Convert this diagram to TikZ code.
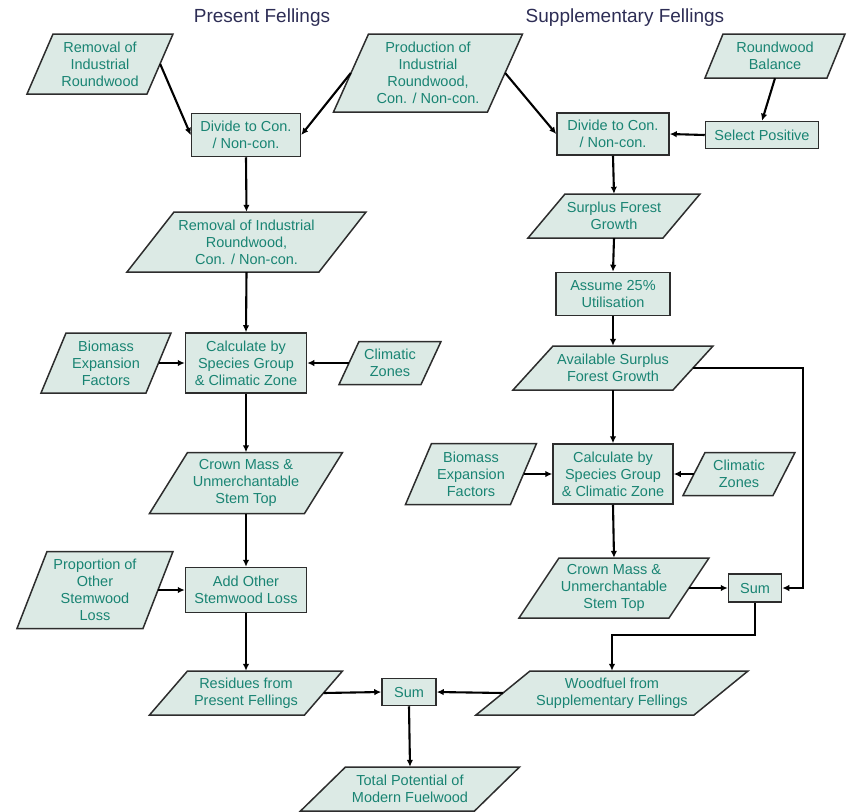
\documentclass[tikz,border=0pt]{standalone}
\usepackage{fontspec}
\setmainfont{Liberation Sans}
\usetikzlibrary{arrows.meta,calc}
\definecolor{fillc}{RGB}{220,234,229}
\definecolor{txtc}{RGB}{25,132,115}
\definecolor{titc}{RGB}{45,45,85}
\definecolor{edgec}{RGB}{45,45,45}
\tikzset{
 shapeline/.style={draw=edgec, line width=1.5pt, fill=fillc, line join=miter},
 ptext/.style={inner sep=0pt, align=center, text=txtc, font=\fontsize{14.5}{17}\selectfont},
 procbox/.style={shapeline, ptext, rectangle},
 flow/.style={line width=2.1pt, -{Latex[length=7pt,width=6.5pt]}},
 ttl/.style={text=titc, font=\fontsize{19}{22}\selectfont, anchor=base, inner sep=0pt}
}
\newcommand{\pgramnode}[7]{%
 \draw[shapeline] (#2-#4/2+#6/2,#3-#5/2) -- (#2+#4/2+#6/2,#3-#5/2) -- (#2+#4/2-#6/2,#3+#5/2) -- (#2-#4/2-#6/2,#3+#5/2) -- cycle;
 \node[ptext, minimum width=#4pt, minimum height=#5pt] (#1) at (#2,#3) {#7};}
\begin{document}
\begin{tikzpicture}[x=1pt,y=-1pt]
\useasboundingbox (0,0) rectangle (847,812);
% titles
\node[ttl] (t1) at (262,22) {Present Fellings};
\node[ttl] (t2) at (625,22) {Supplementary Fellings};
% left column
\pgramnode{rir}{100}{64}{120}{60}{26}{Removal of\\Industrial\\Roundwood}
\pgramnode{prod}{428}{73}{154}{78}{35}{Production of\\Industrial\\Roundwood,\\Con. / Non-con.}
\node[procbox, minimum width=109pt, minimum height=43pt] (div1) at (246,135) {Divide to Con.\\/ Non-con.};
\pgramnode{rem2}{246.5}{242}{192}{60}{47}{Removal of Industrial\\Roundwood,\\Con. / Non-con.}
\node[procbox, minimum width=121pt, minimum height=60pt] (calc1) at (246,363) {Calculate by\\Species Group\\\& Climatic Zone};
\pgramnode{bio1}{106}{363}{105}{60}{25}{Biomass\\Expansion\\Factors}
\pgramnode{clim1}{390}{363}{82}{43}{20}{Climatic\\Zones}
\pgramnode{crown1}{246}{483}{155}{61}{38}{Crown Mass \&\\Unmerchantable\\Stem Top}
\node[procbox, minimum width=121pt, minimum height=45pt] (add1) at (246,590) {Add Other\\Stemwood Loss};
\pgramnode{prop1}{95}{590}{126}{77}{30}{Proportion of\\Other\\Stemwood\\Loss}
\pgramnode{res}{246}{693}{155}{44}{38}{Residues from\\Present Fellings}
\node[procbox, minimum width=54pt, minimum height=27pt] (sum1) at (409,692) {Sum};
\pgramnode{total}{410}{789}{174}{44}{45}{Total Potential of\\Modern Fuelwood}
% right column
\pgramnode{bal}{775}{56}{122}{44}{18}{Roundwood\\Balance}
\node[procbox, minimum width=113pt, minimum height=27pt] (sel) at (762,135) {Select Positive};
\node[procbox, minimum width=112pt, minimum height=42pt] (div2) at (613,134) {Divide to Con.\\/ Non-con.};
\pgramnode{surp}{614}{216}{135}{44}{37}{Surplus Forest\\Growth}
\node[procbox, minimum width=114pt, minimum height=43pt] (assume) at (613,294) {Assume 25\%\\Utilisation};
\pgramnode{avail}{613}{368}{160}{44}{40}{Available Surplus\\Forest Growth}
\node[procbox, minimum width=120pt, minimum height=60pt] (calc2) at (613,474) {Calculate by\\Species Group\\\& Climatic Zone};
\pgramnode{bio2}{471}{474}{105}{61}{26}{Biomass\\Expansion\\Factors}
\pgramnode{clim2}{739}{474}{90}{43}{22}{Climatic\\Zones}
\pgramnode{crown2}{614}{588}{150}{60}{40}{Crown Mass \&\\Unmerchantable\\Stem Top}
\node[procbox, minimum width=53pt, minimum height=28pt] (sum2) at (755,588) {Sum};
\pgramnode{wood}{612}{693}{218}{44}{54}{Woodfuel from\\Supplementary Fellings}
% corner coordinates
\coordinate (c1) at (803,368);
\coordinate (c2) at (612,635);
% connectors left
\draw[flow] (rir.east) -- (div1.west);
\draw[flow] (prod.west) -- (div1.east);
\draw[flow] (div1.south) -- (rem2.north);
\draw[flow] (rem2.south) -- (calc1.north);
\draw[flow] (bio1.east) -- (calc1.west);
\draw[flow] (clim1.west) -- (calc1.east);
\draw[flow] (calc1.south) -- (crown1.north);
\draw[flow] (crown1.south) -- (add1.north);
\draw[flow] (prop1.east) -- (add1.west);
\draw[flow] (add1.south) -- (res.north);
\draw[flow] (res.east) -- (sum1.west);
\draw[flow] (wood.west) -- (sum1.east);
\draw[flow] (sum1.south) -- (total.north);
% connectors right
\draw[flow] (prod.east) -- (div2.west);
\draw[flow] (bal.south) -- (sel.north);
\draw[flow] (sel.west) -- (div2.east);
\draw[flow] (div2.south) -- (surp.north);
\draw[flow] (surp.south) -- (assume.north);
\draw[flow] (assume.south) -- (avail.north);
\draw[flow] (avail.south) -- (calc2.north);
\draw[flow] (bio2.east) -- (calc2.west);
\draw[flow] (clim2.west) -- (calc2.east);
\draw[flow] (calc2.south) -- (crown2.north);
\draw[flow] (crown2.east) -- (sum2.west);
\draw[flow] (avail.east) -- (c1) |- (sum2.east);
\draw[flow] (sum2.south) |- (c2) -- (wood.north);
\end{tikzpicture}
\end{document}
